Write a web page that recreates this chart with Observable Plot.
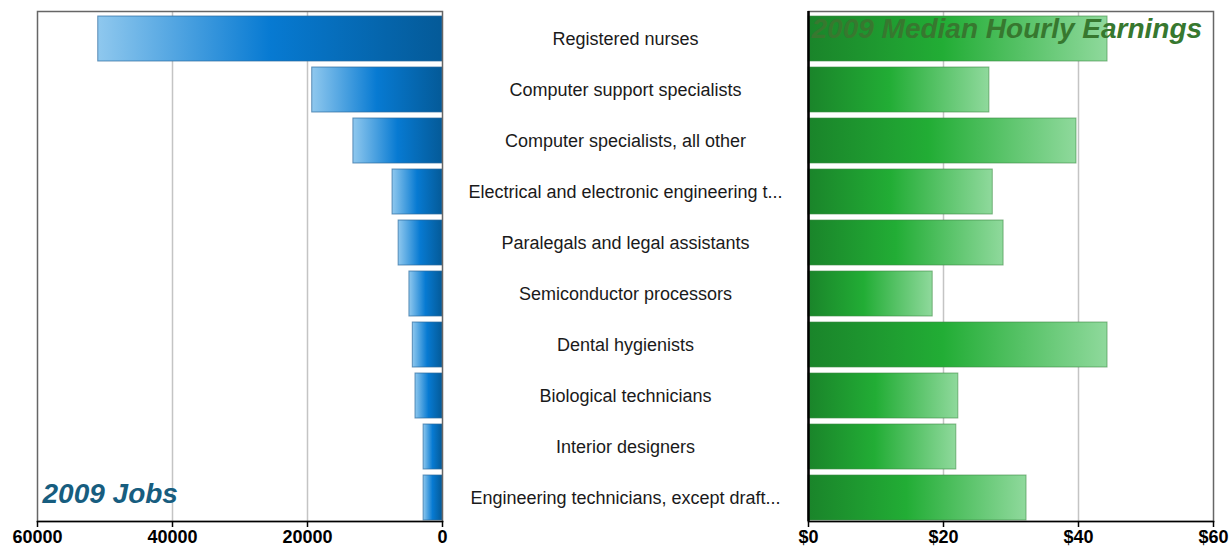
<!DOCTYPE html>
<html>
<head>
<meta charset="utf-8">
<script src="https://cdn.jsdelivr.net/npm/d3@7"></script>
<script src="https://cdn.jsdelivr.net/npm/@observablehq/plot@0.6"></script>
<style>
  html, body { margin: 0; padding: 0; background: #fff; }
  #wrap { position: relative; width: 1230px; height: 551px; overflow: hidden; font-family: "Liberation Sans", Arial, sans-serif; }
  #wrap > div { position: absolute; top: 0; }
</style>
</head>
<body>
<div id="wrap">
  <div id="left" style="left:0px"></div>
  <div id="mid" style="left:442px"></div>
  <div id="right" style="left:790px"></div>
</div>
<script>
const occupations = [
  "Registered nurses",
  "Computer support specialists",
  "Computer specialists, all other",
  "Electrical and electronic engineering t...",
  "Paralegals and legal assistants",
  "Semiconductor processors",
  "Dental hygienists",
  "Biological technicians",
  "Interior designers",
  "Engineering technicians, except draft..."
];
const jobs = [51000, 19300, 13200, 7400, 6500, 4900, 4400, 4000, 2800, 2800];
const wages = [44.3, 26.8, 39.7, 27.3, 28.9, 18.4, 44.3, 22.2, 21.9, 32.3];
const jobTicks = [0, 20000, 40000, 60000];
const wageTicks = [0, 20, 40, 60];
const jobsTitle = "2009 Jobs";
const wagesTitle = "2009 Median Hourly Earnings";

const data = occupations.map((name, i) => ({name, jobs: jobs[i], wage: wages[i]}));

const H = 551, MT = 11, MB = 30;
const yOpts = {type: "band", domain: occupations, paddingInner: 0.12, paddingOuter: 0.05, align: 0.8, axis: null};
const font = "Liberation Sans, Arial, sans-serif";

function addGradient(svg, id, stops) {
  const ns = "http://www.w3.org/2000/svg";
  const defs = document.createElementNS(ns, "defs");
  const g = document.createElementNS(ns, "linearGradient");
  g.setAttribute("id", id);
  g.setAttribute("x1", "0"); g.setAttribute("x2", "1");
  g.setAttribute("y1", "0"); g.setAttribute("y2", "0");
  for (const [o, c] of stops) {
    const s = document.createElementNS(ns, "stop");
    s.setAttribute("offset", o);
    s.setAttribute("stop-color", c);
    g.appendChild(s);
  }
  defs.appendChild(g);
  svg.insertBefore(defs, svg.firstChild);
}

const left = Plot.plot({
  width: 460, height: H,
  marginLeft: 37, marginRight: 18, marginTop: MT, marginBottom: MB,
  style: {fontFamily: font, background: "transparent", overflow: "visible"},
  x: {domain: [0, 60000], reverse: true, label: null},
  y: yOpts,
  marks: [
    Plot.ruleX([20000, 40000], {stroke: "#c4c4c4", strokeWidth: 1.5}),
    Plot.barX(data, {x: "jobs", y: "name", fill: "url(#blueGrad)", stroke: "#2c6a9c", strokeOpacity: 0.7, strokeWidth: 1}),
    Plot.frame({stroke: "#666", strokeWidth: 1.5}),
    Plot.axisX({ticks: jobTicks, tickFormat: d => String(d), label: null, tickSize: 6, tickPadding: 3, fontSize: 18, fontWeight: "bold", fill: "#000", stroke: "#000", strokeWidth: 1.5}),
    Plot.frame({anchor: "bottom", stroke: "#000", strokeWidth: 1.5}),
    Plot.text([jobsTitle], {text: d => d, frameAnchor: "bottom-left", dx: 5, dy: -19, fontSize: 28, fontWeight: "bold", fontStyle: "italic", fill: "#175d7f", textAnchor: "start"})
  ]
});
addGradient(left, "blueGrad", [["0", "#8fc8ee"], ["0.5", "#077ad2"], ["1", "#045a98"]]);
document.getElementById("left").appendChild(left);

const mid = Plot.plot({
  width: 366, height: H,
  marginLeft: 0, marginRight: 0, marginTop: MT, marginBottom: MB,
  style: {fontFamily: font, background: "transparent"},
  x: {axis: null},
  y: yOpts,
  marks: [
    Plot.text(data, {y: "name", text: "name", frameAnchor: "middle", fontSize: 18, fill: "#1a1a1a"})
  ]
});
document.getElementById("mid").appendChild(mid);

const right = Plot.plot({
  width: 440, height: H,
  marginLeft: 18, marginRight: 17, marginTop: MT, marginBottom: MB,
  style: {fontFamily: font, background: "transparent", overflow: "visible"},
  x: {domain: [0, 60], label: null},
  y: yOpts,
  marks: [
    Plot.ruleX([20, 40], {stroke: "#c4c4c4", strokeWidth: 1.5}),
    Plot.barX(data, {x: "wage", y: "name", fill: "url(#greenGrad)", stroke: "#3d8a45", strokeOpacity: 0.6, strokeWidth: 1}),
    Plot.frame({stroke: "#666", strokeWidth: 1.5}),
    Plot.ruleX([0], {stroke: "#000", strokeWidth: 2.5}),
    Plot.axisX({ticks: wageTicks, tickFormat: d => "$" + d, label: null, tickSize: 6, tickPadding: 3, fontSize: 18, fontWeight: "bold", fill: "#000", stroke: "#000", strokeWidth: 1.5}),
    Plot.frame({anchor: "bottom", stroke: "#000", strokeWidth: 1.5}),
    Plot.text([wagesTitle], {text: d => d, frameAnchor: "top-left", dx: 3, dy: 7, fontSize: 28, fontWeight: "bold", fontStyle: "italic", fill: "#37782f", textAnchor: "start"})
  ]
});
addGradient(right, "greenGrad", [["0", "#1a842a"], ["0.45", "#22ad35"], ["1", "#8fd99c"]]);
document.getElementById("right").appendChild(right);
</script>
</body>
</html>
